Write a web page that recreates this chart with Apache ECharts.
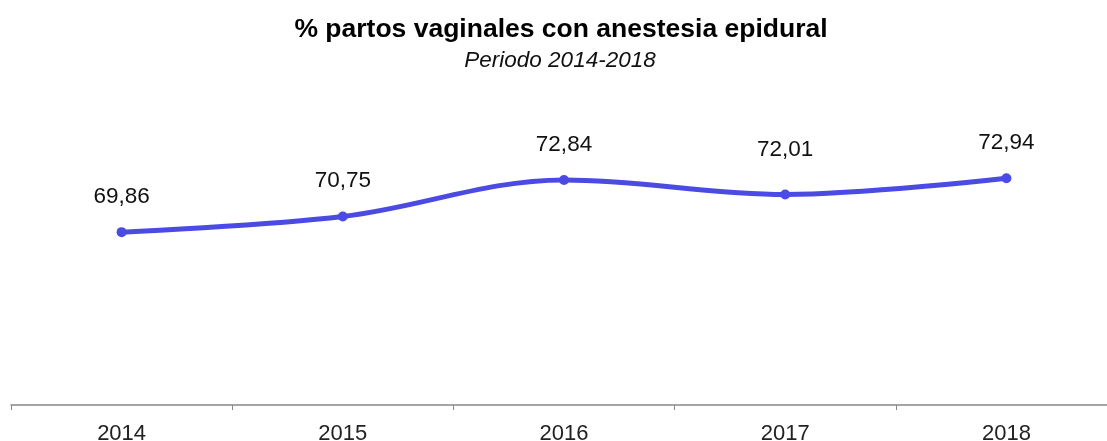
<!DOCTYPE html>
<html><head><meta charset="utf-8">
<script src="https://cdn.jsdelivr.net/npm/echarts@6/dist/echarts.min.js"></script>
<style>html,body{margin:0;padding:0;background:#fff;overflow:hidden}#c{width:1107px;height:441px}</style>
</head><body><div id="c"></div>
<script>
const categories = ['2014','2015','2016','2017','2018'];
const values = [69.86, 70.75, 72.84, 72.01, 72.94];
const titleText = '% partos vaginales con anestesia epidural';
const subtitleText = 'Periodo 2014-2018';

const chart = echarts.init(document.getElementById('c'), null, {renderer:'canvas'});
chart.setOption({
  animation:false,
  textStyle:{fontFamily:'Liberation Sans, Arial, sans-serif'},
  title:[{
    text:titleText, left:556, top:11, textAlign:'center',
    textStyle:{fontSize:26.5, fontWeight:'bold', color:'#000', fontFamily:'Liberation Sans'}
  },{
    text:subtitleText, left:555, top:44, textAlign:'center',
    textStyle:{fontSize:22.5, fontStyle:'italic', fontWeight:'normal', color:'#111', fontFamily:'Liberation Sans'}
  }],
  grid:{left:11, width:1106, top:54.4, bottom:36, containLabel:false, outerBoundsMode:'none'},
  xAxis:{
    type:'category', data:categories, boundaryGap:true,
    axisLine:{lineStyle:{color:'#888', width:1.5}},
    axisTick:{show:true, length:5, lineStyle:{color:'#888'}},
    axisLabel:{fontSize:22, color:'#222', margin:18, fontFamily:'Liberation Sans'}
  },
  yAxis:{type:'value', min:60, max:80, show:false, splitLine:{show:false}},
  series:[{
    type:'line',
    data:values.map((v,i)=> i===3 ? {value:v, label:{distance:28}} : v),
    smooth:0.35,
    symbol:'circle', symbolSize:10,
    lineStyle:{color:'#4b4be4', width:5},
    itemStyle:{color:'#4b4be4'},
    label:{show:true, position:'top', distance:19, fontSize:22.5, color:'#111',
      fontFamily:'Liberation Sans',
      formatter:p=>p.value.toFixed(2).replace('.',',')}
  }]
});
</script></body></html>
